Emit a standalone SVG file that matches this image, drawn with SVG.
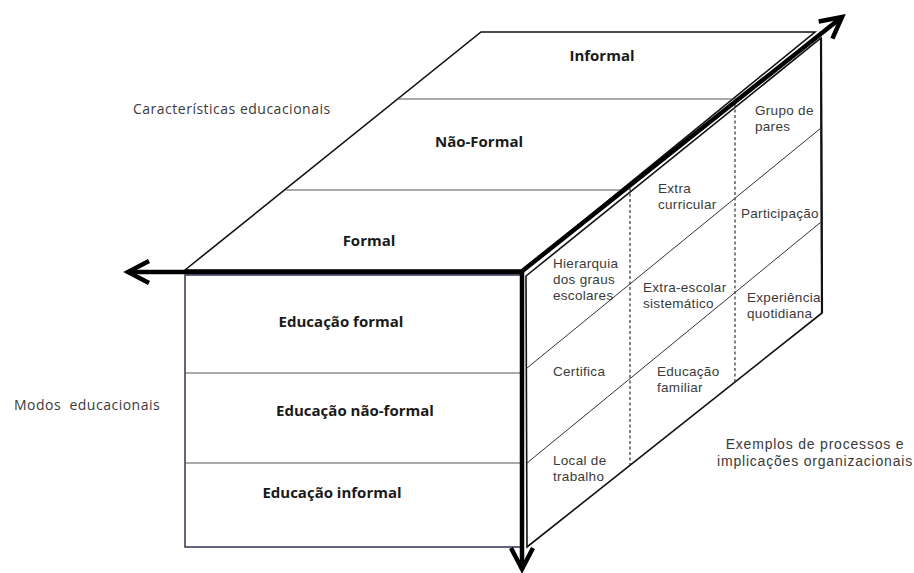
<svg xmlns="http://www.w3.org/2000/svg" width="914" height="573" viewBox="0 0 914 573">
<defs>
<style>
.bold{font-family:"Open Sans","Liberation Sans",sans-serif;font-weight:bold;font-size:15px;fill:#1a1a1a;text-anchor:middle}
.lbl{font-family:"Liberation Sans",Arial,sans-serif;font-size:13.5px;fill:#3a3a3a;letter-spacing:0.3px}
.cap{font-family:"Open Sans","Liberation Sans",sans-serif;font-size:14px;fill:#3a3a3a;letter-spacing:0.5px}
.cap2{font-family:"Liberation Sans",Arial,sans-serif;font-size:14px;fill:#3a3a3a;letter-spacing:0.8px;text-anchor:middle}
.edge{fill:none;stroke:#111;stroke-width:1.6}
.div{fill:none;stroke:#555;stroke-width:1.2}
.diag{fill:none;stroke:#333;stroke-width:1}
.dash{fill:none;stroke:#333;stroke-width:1.2;stroke-dasharray:3 2.5}
.axis{fill:none;stroke:#000;stroke-width:4.5}
</style>
<marker id="chev" markerUnits="userSpaceOnUse" markerWidth="40" markerHeight="40" viewBox="-30 -20 40 40" refX="0" refY="0" orient="auto" overflow="visible">
<path d="M -21 -11 L 0 0 L -21 11" fill="none" stroke="#000" stroke-width="4.5" stroke-linejoin="miter"/>
</marker>
</defs>
<rect width="914" height="573" fill="#fff"/>

<g id="top-face">
<polygon class="edge" points="185,270 481,32 815,32 523,270" fill="#fff"/>
<g id="top-informal"><text class="bold" x="602" y="61">Informal</text></g>
<g id="top-naoformal"><line class="div" x1="398" y1="99" x2="736" y2="99"/><text class="bold" x="479" y="147">Não-Formal</text></g>
<g id="top-formal"><line class="div" x1="286" y1="190" x2="623" y2="190"/><text class="bold" x="369" y="246">Formal</text></g>
</g>

<g id="front-face">
<rect x="185" y="275" width="337" height="272" fill="#fff" stroke="#3a4060" stroke-width="1.6"/>
<g id="front-formal"><text class="bold" x="341" y="327">Educação formal</text></g>
<g id="front-naoformal"><line class="div" x1="185" y1="373" x2="522" y2="373"/><text class="bold" x="355" y="416">Educação não-formal</text></g>
<g id="front-informal"><line class="div" x1="185" y1="463" x2="522" y2="463"/><text class="bold" x="332" y="498">Educação informal</text></g>
</g>

<g id="right-face">
<polygon class="edge" points="526,276 821,38 822,313 527,547" fill="#fff"/>
<line x1="821" y1="38" x2="822" y2="313" stroke="#111" stroke-width="2.2"/>
<line class="diag" x1="527" y1="368" x2="821" y2="128"/>
<line class="diag" x1="527" y1="463" x2="821" y2="222"/>
<line class="dash" x1="630" y1="188" x2="630" y2="465"/>
<line class="dash" x1="735" y1="104" x2="735" y2="382"/>
<g id="cell-hierarquia"><text class="lbl"><tspan x="553" y="268">Hierarquia</tspan><tspan x="553" y="284">dos graus</tspan><tspan x="553" y="300">escolares</tspan></text></g>
<g id="cell-extracurricular"><text class="lbl"><tspan x="658" y="193">Extra</tspan><tspan x="658" y="209">curricular</tspan></text></g>
<g id="cell-grupo"><text class="lbl"><tspan x="755" y="115">Grupo de</tspan><tspan x="755" y="131">pares</tspan></text></g>
<g id="cell-participacao"><text class="lbl" x="741" y="218">Participação</text></g>
<g id="cell-extraescolar"><text class="lbl"><tspan x="643" y="292">Extra-escolar</tspan><tspan x="643" y="308">sistemático</tspan></text></g>
<g id="cell-experiencia"><text class="lbl"><tspan x="747" y="302">Experiência</tspan><tspan x="747" y="318">quotidiana</tspan></text></g>
<g id="cell-certifica"><text class="lbl" x="553" y="376">Certifica</text></g>
<g id="cell-educfamiliar"><text class="lbl"><tspan x="657" y="376">Educação</tspan><tspan x="657" y="392">familiar</tspan></text></g>
<g id="cell-local"><text class="lbl"><tspan x="553" y="465">Local de</tspan><tspan x="553" y="481">trabalho</tspan></text></g>
</g>

<g id="connectors">
<line class="axis" x1="522" y1="272" x2="128" y2="272" marker-end="url(#chev)"/>
<line class="axis" x1="522" y1="270" x2="522" y2="569" marker-end="url(#chev)"/>
<line class="axis" x1="521" y1="272" x2="842" y2="17" marker-end="url(#chev)"/>
</g>

<g id="axis-labels">
<text class="cap" x="133" y="114">Características educacionais</text>
<text class="cap" x="14" y="410" xml:space="preserve">Modos  educacionais</text>
<text class="cap2"><tspan x="815" y="449">Exemplos de processos e</tspan><tspan x="815" y="466">implicações organizacionais</tspan></text>
</g>
</svg>
